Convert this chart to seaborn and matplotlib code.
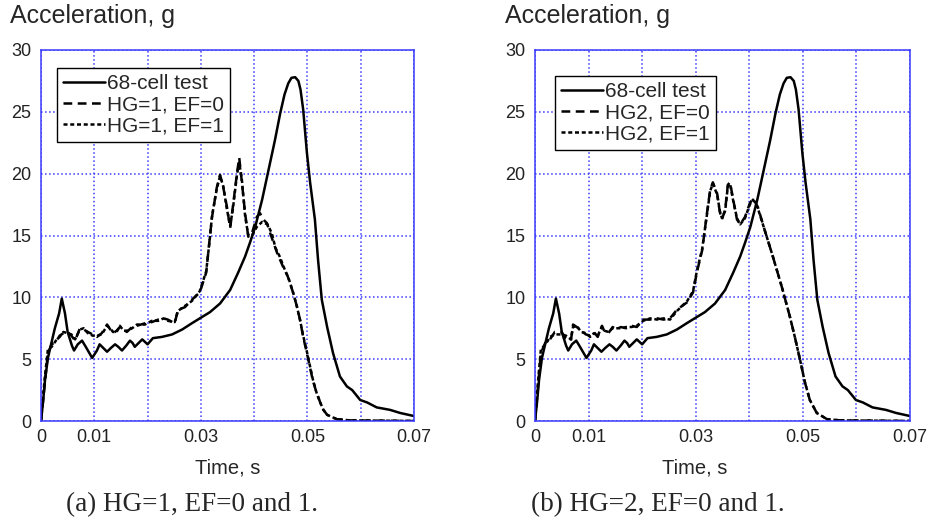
"""
Crash pulse comparison: 68-cell test vs. simulations (HG=1 / HG=2, EF=0 and 1)
"""

import matplotlib
matplotlib.use("Agg")
import pandas as pd
import matplotlib.pyplot as plt
import seaborn as sns

# Data (time in s, acceleration in g)

# 68-cell test, same in both panels
test_curve = [
    (0, 0), (0.0004, 1.6), (0.00075, 3.3), (0.0013, 5.1), (0.002, 6.4), (0.0026, 7.5),
    (0.0034, 8.7), (0.0039, 9.9), (0.0045, 8.7), (0.005, 7.2), (0.0058, 6.1), (0.0062, 5.7),
    (0.0069, 6.2), (0.0077, 6.5), (0.0084, 6.0), (0.0096, 5.1), (0.0105, 5.7), (0.011, 6.2),
    (0.0117, 5.9), (0.0124, 5.6), (0.0131, 5.9), (0.0139, 6.2), (0.0145, 6.0), (0.0152, 5.7),
    (0.016, 6.1), (0.0167, 6.5), (0.0172, 6.3), (0.0176, 6.0), (0.0183, 6.3), (0.019, 6.6),
    (0.0195, 6.4), (0.020, 6.2), (0.021, 6.7), (0.0227, 6.8), (0.0246, 7.0), (0.0265, 7.4),
    (0.0283, 7.9), (0.0298, 8.3), (0.0317, 8.8), (0.0336, 9.5), (0.0355, 10.6), (0.037, 12.0),
    (0.0383, 13.3), (0.0392, 14.4), (0.0402, 15.7), (0.0415, 17.9), (0.0426, 20.1), (0.0439, 22.7),
    (0.0449, 24.9), (0.0457, 26.4), (0.0464, 27.3), (0.047, 27.75), (0.0477, 27.8), (0.0483, 27.5),
    (0.0487, 26.8), (0.0492, 25.2), (0.0499, 21.7), (0.0505, 19.3), (0.0514, 16.3), (0.052, 13.0),
    (0.0527, 9.8), (0.0537, 7.6), (0.0548, 5.5), (0.0561, 3.6), (0.0574, 2.8), (0.0584, 2.5),
    (0.0599, 1.7), (0.0612, 1.5), (0.063, 1.1), (0.0655, 0.9), (0.0674, 0.65), (0.07, 0.4),
]

# panel (a): HG=1, EF=0
hg1_ef0 = [
    (0, 0), (0.0007, 3.0), (0.0013, 5.5), (0.002, 6.2), (0.0028, 6.4), (0.0035, 6.9),
    (0.0042, 7.1), (0.005, 7.2), (0.0057, 6.9), (0.0064, 6.5), (0.0073, 7.5), (0.008, 7.4),
    (0.0088, 7.2), (0.0097, 7.0), (0.0105, 6.8), (0.0114, 7.1), (0.0124, 7.8), (0.013, 7.4),
    (0.0135, 7.1), (0.0142, 7.3), (0.0148, 7.6), (0.0155, 7.4), (0.0161, 7.2), (0.0171, 7.6),
    (0.018, 7.7), (0.0195, 7.9), (0.0208, 8.0), (0.022, 8.2), (0.023, 8.3), (0.0238, 8.2),
    (0.0251, 7.9), (0.0257, 9.0), (0.027, 9.2), (0.0283, 9.8), (0.0298, 10.4), (0.031, 12.0),
    (0.0316, 14.5), (0.0321, 16.5), (0.033, 18.9), (0.0336, 19.9), (0.0342, 18.9), (0.0349, 17.3),
    (0.0355, 15.6), (0.036, 17.3), (0.0368, 20.1), (0.0372, 21.3), (0.0377, 19.3), (0.0383, 16.8),
    (0.0389, 14.9), (0.0396, 15.2), (0.0405, 16.5), (0.0411, 16.8), (0.0417, 16.3), (0.0424, 16.0),
    (0.043, 15.2), (0.0443, 13.6), (0.0454, 12.5), (0.0463, 11.7), (0.0473, 10.4), (0.048, 9.3),
    (0.0486, 8.2), (0.0492, 6.8), (0.0499, 5.5), (0.051, 3.3), (0.0517, 2.3), (0.0524, 1.5),
    (0.053, 0.9), (0.0537, 0.5), (0.0555, 0.15), (0.058, 0.05), (0.07, 0.0),
]

# panel (a): HG=1, EF=1
hg1_ef1 = [
    (0, 0), (0.0007, 3.5), (0.0013, 5.8), (0.002, 6.0), (0.0028, 6.5), (0.0035, 6.8),
    (0.0042, 7.2), (0.005, 7.1), (0.0057, 7.0), (0.0064, 6.6), (0.0073, 7.4), (0.008, 7.5),
    (0.0088, 7.1), (0.0097, 6.9), (0.0105, 6.9), (0.0114, 7.0), (0.0124, 7.7), (0.013, 7.5),
    (0.0135, 7.2), (0.0142, 7.2), (0.0148, 7.7), (0.0155, 7.3), (0.0161, 7.3), (0.0171, 7.5),
    (0.018, 7.8), (0.0195, 7.8), (0.0208, 8.1), (0.022, 8.1), (0.023, 8.3), (0.0238, 8.1),
    (0.0251, 8.0), (0.0257, 8.9), (0.027, 9.3), (0.0283, 9.7), (0.0298, 10.5), (0.031, 12.1),
    (0.0316, 14.4), (0.0321, 16.6), (0.033, 18.8), (0.0336, 19.8), (0.0342, 19.0), (0.0349, 17.1),
    (0.0355, 15.8), (0.036, 17.1), (0.0368, 20.0), (0.0372, 20.9), (0.0377, 19.5), (0.0383, 16.6),
    (0.0389, 15.0), (0.0396, 15.0), (0.0405, 15.7), (0.0415, 16.1), (0.0425, 15.9), (0.0433, 15.2),
    (0.044, 14.0), (0.0448, 13.3), (0.0456, 12.4), (0.0465, 11.5), (0.0473, 10.4), (0.048, 9.3),
    (0.0486, 8.2), (0.0492, 6.9), (0.0499, 5.6), (0.051, 3.4), (0.0517, 2.3), (0.0524, 1.5),
    (0.053, 0.9), (0.0537, 0.5), (0.0555, 0.15), (0.058, 0.05), (0.07, 0.0),
]

# panel (b): HG2, EF=0
hg2_ef0 = [
    (0, 0), (0.0006, 3.0), (0.0011, 5.5), (0.002, 6.4), (0.0028, 6.6), (0.0037, 7.2),
    (0.0049, 7.2), (0.0058, 6.7), (0.0067, 6.5), (0.0071, 7.8), (0.0078, 7.6), (0.0086, 7.3),
    (0.0095, 7.0), (0.0103, 6.9), (0.011, 7.2), (0.0117, 6.8), (0.0125, 7.7), (0.013, 7.2),
    (0.0137, 7.1), (0.0145, 7.6), (0.0152, 7.4), (0.016, 7.6), (0.017, 7.5), (0.018, 7.7),
    (0.019, 7.6), (0.0202, 8.2), (0.0215, 8.2), (0.0228, 8.3), (0.024, 8.2), (0.0252, 8.3),
    (0.0265, 9.0), (0.0284, 9.6), (0.0295, 10.4), (0.0302, 12.0), (0.0312, 13.8), (0.0321, 16.8),
    (0.0327, 18.7), (0.0332, 19.3), (0.034, 18.4), (0.0345, 16.9), (0.0349, 16.3), (0.0355, 17.1),
    (0.036, 19.1), (0.0364, 19.3), (0.037, 17.9), (0.0377, 16.3), (0.0383, 15.9), (0.0392, 16.5),
    (0.0401, 17.6), (0.0407, 18.0), (0.0416, 17.3), (0.0429, 15.4), (0.0444, 13.3), (0.0461, 10.8),
    (0.0476, 8.4), (0.0485, 6.8), (0.0495, 4.9), (0.0504, 3.1), (0.0513, 1.7), (0.0526, 0.65),
    (0.0545, 0.15), (0.057, 0.05), (0.07, 0.0),
]

# panel (b): HG2, EF=1
hg2_ef1 = [
    (0, 0), (0.0006, 3.4), (0.0011, 5.8), (0.002, 6.2), (0.0028, 6.8), (0.0037, 7.0),
    (0.0049, 7.0), (0.0058, 6.9), (0.0067, 6.6), (0.0071, 7.6), (0.0078, 7.7), (0.0086, 7.2),
    (0.0095, 7.1), (0.0103, 6.8), (0.011, 7.1), (0.0117, 6.9), (0.0125, 7.6), (0.013, 7.3),
    (0.0137, 7.2), (0.0145, 7.5), (0.0152, 7.5), (0.016, 7.5), (0.017, 7.6), (0.018, 7.6),
    (0.019, 7.7), (0.0202, 8.1), (0.0215, 8.3), (0.0228, 8.2), (0.024, 8.3), (0.0252, 8.2),
    (0.0265, 8.9), (0.0284, 9.7), (0.0295, 10.5), (0.0302, 12.1), (0.0312, 13.9), (0.0321, 16.7),
    (0.0327, 18.6), (0.0332, 19.2), (0.034, 18.3), (0.0345, 17.0), (0.0349, 16.4), (0.0355, 17.0),
    (0.036, 19.0), (0.0364, 19.2), (0.037, 17.8), (0.0377, 16.4), (0.0383, 15.9), (0.0392, 16.4),
    (0.0401, 17.5), (0.0407, 17.9), (0.0416, 17.2), (0.0429, 15.4), (0.0444, 13.3), (0.0461, 10.8),
    (0.0476, 8.4), (0.0485, 6.8), (0.0495, 4.9), (0.0504, 3.1), (0.0513, 1.7), (0.0526, 0.65),
    (0.0545, 0.15), (0.057, 0.05), (0.07, 0.0),
]

labels_a = ["68-cell test", "HG=1, EF=0", "HG=1, EF=1"]
labels_b = ["68-cell test", "HG2, EF=0", "HG2, EF=1"]
captions = ["(a) HG=1, EF=0 and 1.", "(b) HG=2, EF=0 and 1."]

x_ticks = [0, 0.01, 0.02, 0.03, 0.04, 0.05, 0.06, 0.07]
x_tick_labels = ["0", "0.01", "", "0.03", "", "0.05", "", "0.07"]
y_ticks = [0, 5, 10, 15, 20, 25, 30]

BLUE = "#3a3aff"
LINE_STYLES = ["-", (0, (3.5, 2.2)), (0, (1.6, 1.1))]


def to_frame(points):
    return pd.DataFrame(points, columns=["t", "g"])


def draw_panel(ax, curves, labels, anchor):
    for pts, lab, ls in zip(curves, labels, LINE_STYLES):
        sns.lineplot(data=to_frame(pts), x="t", y="g", ax=ax, color="black",
                     linewidth=1.8, linestyle=ls, label=lab, estimator=None)
    ax.set_xlim(0, 0.07)
    ax.set_ylim(0, 30)
    ax.set_xticks(x_ticks)
    ax.set_xticklabels(x_tick_labels)
    ax.set_yticks(y_ticks)
    ax.grid(True, color=BLUE, linestyle=":", linewidth=1.1)
    for sp in ax.spines.values():
        sp.set_color(BLUE)
        sp.set_linewidth(1.1)
    ax.tick_params(axis="both", direction="in", length=3, color=BLUE,
                   labelsize=13, labelcolor="#222222")
    ax.tick_params(axis="x", pad=6)
    ax.tick_params(axis="y", pad=7)
    ax.set_xlabel("")
    ax.set_ylabel("")
    leg = ax.legend(loc="upper left", bbox_to_anchor=anchor, borderaxespad=0,
                    fontsize=15, handlelength=2.0, handletextpad=0.1,
                    labelspacing=0.1, borderpad=0.3, fancybox=False,
                    framealpha=1, edgecolor="black")
    leg.get_frame().set_linewidth(1.0)


def main():
    sns.set_style("white")
    plt.rcParams["font.family"] = ["Liberation Sans", "DejaVu Sans"]

    fig = plt.figure(figsize=(9.29, 5.29), dpi=100)
    W, H = 929, 529

    ax_a = fig.add_axes([41 / W, 1 - 421 / H, 373 / W, 371 / H])
    ax_b = fig.add_axes([535 / W, 1 - 421 / H, 375 / W, 371 / H])

    draw_panel(ax_a, [test_curve, hg1_ef0, hg1_ef1], labels_a, (0.043, 0.951))
    draw_panel(ax_b, [test_curve, hg2_ef0, hg2_ef1], labels_b, (0.053, 0.93))

    # axis titles placed like the original figure
    fig.text(10 / W, 1 - 16 / H, "Acceleration, g", fontsize=18, va="center", ha="left")
    fig.text(505 / W, 1 - 16 / H, "Acceleration, g", fontsize=18, va="center", ha="left")
    fig.text(228 / W, 1 - 468 / H, "Time, s", fontsize=14.5, va="center", ha="center")
    fig.text(695 / W, 1 - 468 / H, "Time, s", fontsize=14.5, va="center", ha="center")

    # sub-figure captions in serif
    fig.text(192 / W, 1 - 505 / H, captions[0], fontsize=19.5, va="center", ha="center",
             family=["Liberation Serif", "DejaVu Serif"])
    fig.text(658 / W, 1 - 505 / H, captions[1], fontsize=19.5, va="center", ha="center",
             family=["Liberation Serif", "DejaVu Serif"])

    fig.savefig("out.png", dpi=100)


if __name__ == '__main__':
    main()
